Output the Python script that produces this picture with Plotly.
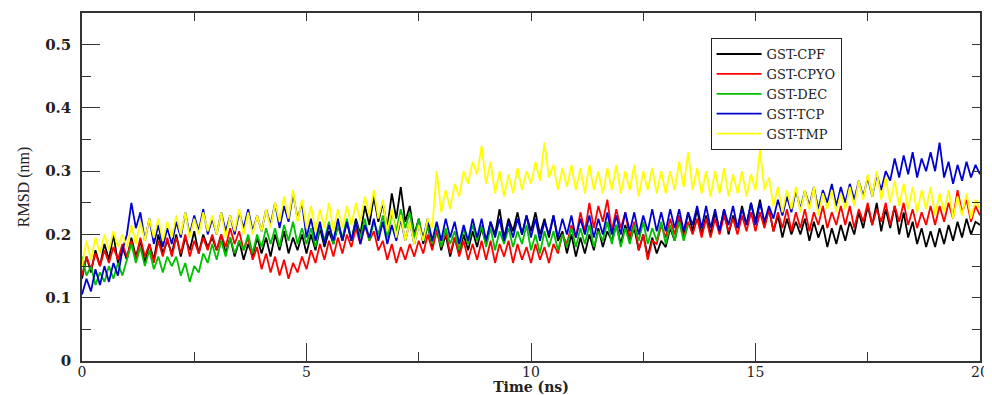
import numpy as np
import plotly.graph_objects as go

# time grid (ns), 0.1 ns sampling
time = np.round(np.arange(0, 201) * 0.1, 1)

series_names = ["GST-CPF", "GST-CPYO", "GST-DEC", "GST-TCP", "GST-TMP"]

cpf = [
    0.13, 0.165, 0.14, 0.175, 0.15, 0.185, 0.16, 0.2, 0.155, 0.18,
    0.16, 0.195, 0.165, 0.19, 0.155, 0.185, 0.16, 0.2, 0.17, 0.19,
    0.17, 0.2, 0.165, 0.195, 0.175, 0.205, 0.17, 0.2, 0.18, 0.195,
    0.175, 0.2, 0.17, 0.195, 0.165, 0.19, 0.16, 0.185, 0.165, 0.195,
    0.17, 0.195, 0.165, 0.2, 0.175, 0.205, 0.17, 0.195, 0.175, 0.2,
    0.17, 0.2, 0.175, 0.21, 0.18, 0.205, 0.185, 0.215, 0.19, 0.22,
    0.19, 0.225, 0.2, 0.245, 0.215, 0.26, 0.22, 0.25, 0.21, 0.265,
    0.225, 0.275, 0.22, 0.245, 0.2, 0.225, 0.185, 0.215, 0.18, 0.21,
    0.175, 0.2, 0.165, 0.195, 0.17, 0.2, 0.175, 0.205, 0.18, 0.21,
    0.185, 0.22, 0.2, 0.24, 0.195, 0.225, 0.205, 0.235, 0.2, 0.23,
    0.205, 0.235, 0.2, 0.225, 0.195, 0.23, 0.19, 0.205, 0.17, 0.2,
    0.165, 0.195, 0.17, 0.2, 0.175, 0.21, 0.18, 0.205, 0.19, 0.215,
    0.185, 0.215, 0.19, 0.21, 0.175, 0.2, 0.165, 0.195, 0.17, 0.19,
    0.18, 0.21, 0.19, 0.225, 0.2, 0.235, 0.205, 0.24, 0.2, 0.23,
    0.2, 0.235, 0.205, 0.24, 0.2, 0.23, 0.21, 0.245, 0.215, 0.25,
    0.22, 0.255, 0.215, 0.24, 0.205, 0.23, 0.195, 0.225, 0.2, 0.22,
    0.2, 0.225, 0.19, 0.22, 0.195, 0.215, 0.18, 0.21, 0.185, 0.215,
    0.19, 0.22, 0.2, 0.235, 0.21, 0.245, 0.215, 0.25, 0.205, 0.24,
    0.21, 0.245, 0.2, 0.235, 0.195, 0.22, 0.185, 0.21, 0.18, 0.205,
    0.18, 0.21, 0.185, 0.215, 0.19, 0.22, 0.195, 0.225, 0.2, 0.22,
    0.215,
]

cpyo = [
    0.135, 0.165, 0.145, 0.17, 0.15, 0.175, 0.155, 0.18, 0.16, 0.185,
    0.165, 0.19, 0.16, 0.195, 0.165, 0.185, 0.155, 0.19, 0.165, 0.195,
    0.165, 0.195, 0.17, 0.2, 0.165, 0.19, 0.17, 0.195, 0.175, 0.2,
    0.175, 0.2, 0.18, 0.21, 0.185, 0.205, 0.175, 0.195, 0.16, 0.18,
    0.145, 0.17, 0.14, 0.165, 0.135, 0.16, 0.13, 0.155, 0.14, 0.165,
    0.145, 0.175, 0.155, 0.185, 0.16, 0.19, 0.165, 0.195, 0.17, 0.2,
    0.18, 0.21, 0.185, 0.215, 0.19, 0.205, 0.175, 0.19, 0.16, 0.185,
    0.155, 0.18, 0.16, 0.185, 0.165, 0.19, 0.17, 0.2, 0.175, 0.205,
    0.18, 0.205, 0.17, 0.195, 0.165, 0.19, 0.16, 0.185, 0.16, 0.19,
    0.16, 0.19, 0.155, 0.185, 0.165, 0.19, 0.155, 0.185, 0.16, 0.18,
    0.155, 0.185, 0.16, 0.18, 0.155, 0.185, 0.17, 0.2, 0.185, 0.215,
    0.195, 0.235, 0.205, 0.25, 0.21, 0.245, 0.22, 0.255, 0.205, 0.24,
    0.21, 0.235, 0.195, 0.22, 0.175, 0.2, 0.16, 0.19, 0.185, 0.215,
    0.195, 0.225, 0.2, 0.23, 0.195, 0.22, 0.2, 0.225, 0.195, 0.225,
    0.195, 0.225, 0.2, 0.23, 0.205, 0.225, 0.2, 0.23, 0.205, 0.235,
    0.205, 0.235, 0.21, 0.24, 0.205, 0.235, 0.21, 0.24, 0.205, 0.235,
    0.21, 0.24, 0.205, 0.235, 0.215, 0.245, 0.21, 0.235, 0.215, 0.245,
    0.215, 0.245, 0.21, 0.24, 0.22, 0.25, 0.215, 0.24, 0.22, 0.25,
    0.215, 0.245, 0.22, 0.25, 0.215, 0.24, 0.21, 0.235, 0.215, 0.245,
    0.215, 0.245, 0.22, 0.25, 0.225, 0.27, 0.235, 0.255, 0.22, 0.245,
    0.23,
]

dec = [
    0.165, 0.135, 0.15, 0.12, 0.14, 0.125, 0.15, 0.13, 0.155, 0.135,
    0.16, 0.185, 0.155, 0.18, 0.15, 0.175, 0.145, 0.165, 0.14, 0.165,
    0.15, 0.165, 0.135, 0.155, 0.125, 0.15, 0.14, 0.17, 0.155, 0.185,
    0.16, 0.19, 0.165, 0.195, 0.17, 0.19, 0.175, 0.2, 0.17, 0.2,
    0.18, 0.21, 0.185, 0.21, 0.18, 0.215, 0.19, 0.22, 0.185, 0.21,
    0.185, 0.21, 0.18, 0.215, 0.19, 0.22, 0.185, 0.215, 0.195, 0.225,
    0.19, 0.22, 0.195, 0.225, 0.19, 0.22, 0.2, 0.23, 0.195, 0.235,
    0.205, 0.24, 0.21, 0.235, 0.195, 0.225, 0.19, 0.215, 0.185, 0.215,
    0.18, 0.21, 0.185, 0.205, 0.175, 0.21, 0.185, 0.215, 0.19, 0.215,
    0.18, 0.21, 0.175, 0.205, 0.185, 0.21, 0.18, 0.205, 0.185, 0.215,
    0.175, 0.2, 0.17, 0.205, 0.18, 0.205, 0.175, 0.2, 0.18, 0.21,
    0.18, 0.21, 0.185, 0.215, 0.18, 0.205, 0.19, 0.22, 0.185, 0.215,
    0.18, 0.21, 0.185, 0.215, 0.19, 0.22, 0.185, 0.21, 0.19, 0.22,
    0.185, 0.215, 0.19, 0.22, 0.19, 0.215,
]

tcp = [
    0.105, 0.13, 0.11, 0.145, 0.12, 0.15, 0.125, 0.155, 0.135, 0.175,
    0.2, 0.25, 0.21, 0.235, 0.19, 0.225, 0.185, 0.215, 0.18, 0.21,
    0.185, 0.22, 0.195, 0.235, 0.2, 0.23, 0.205, 0.24, 0.2, 0.225,
    0.2, 0.235, 0.205, 0.23, 0.2, 0.235, 0.21, 0.24, 0.205, 0.23,
    0.205, 0.24, 0.215, 0.25, 0.21, 0.245, 0.22, 0.265, 0.225, 0.25,
    0.195, 0.225, 0.19, 0.22, 0.185, 0.215, 0.19, 0.225, 0.19, 0.22,
    0.19, 0.22, 0.185, 0.215, 0.195, 0.225, 0.19, 0.22, 0.185, 0.215,
    0.19, 0.225, 0.19, 0.22, 0.185, 0.215, 0.195, 0.225, 0.19, 0.22,
    0.19, 0.225, 0.195, 0.22, 0.185, 0.215, 0.19, 0.225, 0.195, 0.225,
    0.19, 0.22, 0.195, 0.225, 0.19, 0.22, 0.195, 0.225, 0.2, 0.23,
    0.195, 0.225, 0.19, 0.22, 0.2, 0.23, 0.195, 0.225, 0.2, 0.23,
    0.195, 0.225, 0.2, 0.23, 0.195, 0.225, 0.2, 0.235, 0.2, 0.23,
    0.2, 0.235, 0.205, 0.235, 0.2, 0.23, 0.205, 0.24, 0.205, 0.235,
    0.205, 0.24, 0.21, 0.24, 0.205, 0.235, 0.215, 0.245, 0.21, 0.245,
    0.21, 0.24, 0.205, 0.24, 0.215, 0.245, 0.21, 0.24, 0.215, 0.25,
    0.215, 0.25, 0.22, 0.245, 0.225, 0.255, 0.23, 0.26, 0.235, 0.27,
    0.24, 0.27, 0.245, 0.275, 0.24, 0.27, 0.25, 0.28, 0.245, 0.275,
    0.25, 0.28, 0.255, 0.285, 0.26, 0.29, 0.26, 0.295, 0.27, 0.3,
    0.285, 0.32, 0.29, 0.325, 0.295, 0.33, 0.29, 0.32, 0.3, 0.33,
    0.3, 0.345, 0.29, 0.315, 0.28, 0.31, 0.285, 0.315, 0.29, 0.31,
    0.295,
]

tmp = [
    0.15, 0.19, 0.16, 0.195, 0.17, 0.2, 0.175, 0.205, 0.18, 0.2,
    0.18, 0.215, 0.185, 0.22, 0.19, 0.225, 0.195, 0.225, 0.19, 0.22,
    0.195, 0.23, 0.2, 0.235, 0.195, 0.225, 0.2, 0.235, 0.205, 0.23,
    0.2, 0.235, 0.195, 0.23, 0.205, 0.24, 0.2, 0.235, 0.2, 0.23,
    0.205, 0.24, 0.21, 0.25, 0.22, 0.26, 0.225, 0.27, 0.22, 0.255,
    0.21, 0.245, 0.205, 0.24, 0.21, 0.25, 0.205, 0.24, 0.21, 0.245,
    0.215, 0.25, 0.22, 0.26, 0.23, 0.27, 0.225, 0.255, 0.205, 0.24,
    0.195, 0.23, 0.19, 0.22, 0.185, 0.215, 0.19, 0.225, 0.21, 0.3,
    0.235, 0.27, 0.24, 0.28, 0.26, 0.3, 0.28, 0.315, 0.295, 0.34,
    0.28, 0.315, 0.265, 0.3, 0.26, 0.295, 0.265, 0.305, 0.27, 0.3,
    0.28, 0.315, 0.285, 0.345, 0.29, 0.31, 0.27, 0.305, 0.275, 0.31,
    0.27, 0.305, 0.265, 0.31, 0.27, 0.3, 0.265, 0.305, 0.27, 0.31,
    0.265, 0.3, 0.27, 0.31, 0.26, 0.3, 0.27, 0.305, 0.265, 0.3,
    0.265, 0.3, 0.27, 0.315, 0.275, 0.33, 0.27, 0.305, 0.265, 0.3,
    0.26, 0.3, 0.265, 0.305, 0.26, 0.295, 0.265, 0.3, 0.26, 0.295,
    0.27, 0.335, 0.27, 0.29, 0.245, 0.275, 0.235, 0.27, 0.24, 0.275,
    0.235, 0.27, 0.24, 0.275, 0.23, 0.265, 0.24, 0.27, 0.235, 0.265,
    0.24, 0.275, 0.245, 0.285, 0.255, 0.295, 0.26, 0.3, 0.255, 0.29,
    0.25, 0.285, 0.245, 0.28, 0.24, 0.275, 0.235, 0.27, 0.24, 0.275,
    0.23, 0.265, 0.235, 0.27, 0.225, 0.26, 0.23, 0.265, 0.225, 0.255,
    0.24,
]

x_ticks = [0, 5, 10, 15, 20]
y_ticks = [0, 0.1, 0.2, 0.3, 0.4, 0.5]

colors = ["#000000", "#ff0000", "#00c000", "#0000d0", "#ffff00"]
values = [cpf, cpyo, dec, tcp, tmp]

SERIF = "DejaVu Serif"
TIMES = "Liberation Serif"
AX = "#333333"
TXT = "#222222"

fig = go.Figure()
for name, vals, col in zip(series_names, values, colors):
    fig.add_trace(go.Scatter(
        x=time[:len(vals)], y=vals, mode="lines", name=name,
        line=dict(color=col, width=1.8),
    ))

# empty trace for the mirrored (top/right) axes
fig.add_trace(go.Scatter(x=[], y=[], xaxis="x2", yaxis="y2",
                         showlegend=False, hoverinfo="skip"))

# the page body has an 8px margin: the figure is sized/offset to compensate
fig.update_layout(
    width=984, height=387,
    margin=dict(l=74, r=12, t=5, b=34),
    plot_bgcolor="white", paper_bgcolor="white",
    font=dict(family=SERIF, color=TXT),
    showlegend=True,
    legend=dict(
        x=0.70, y=0.928, xanchor="left", yanchor="top",
        bgcolor="white", bordercolor=TXT, borderwidth=1,
        font=dict(family=SERIF, size=13, color=TXT),
        itemwidth=45,
    ),
    xaxis=dict(
        range=[0, 20], tickvals=x_ticks, ticks="inside", ticklen=18,
        tickwidth=1.2, tickcolor=AX, automargin=False,
        minor=dict(dtick=2.5, ticks="inside", ticklen=9, tickcolor=AX, tickwidth=1.2),
        showline=True, linecolor=AX, linewidth=1.5, mirror=True,
        showgrid=False, zeroline=False, ticklabelstandoff=-3,
        tickfont=dict(family=SERIF, size=14, color=TXT),
        title=dict(text="<b>Time (ns)</b>", font=dict(family=SERIF, size=14, color=TXT), standoff=0),
    ),
    yaxis=dict(
        range=[0, 0.55], tickvals=y_ticks, ticks="inside", ticklen=18,
        tickwidth=1.2, tickcolor=AX, automargin=False,
        minor=dict(dtick=0.05, ticks="inside", ticklen=9, tickcolor=AX, tickwidth=1.2),
        showline=True, linecolor=AX, linewidth=1.5, mirror=True,
        showgrid=False, zeroline=False, ticklabelstandoff=6,
        tickfont=dict(family=SERIF, size=15, color=TXT, weight="bold"),
        title=dict(text="RMSD (nm)", font=dict(family=TIMES, size=16, color=TXT), standoff=12),
    ),
    xaxis2=dict(
        overlaying="x", side="top", range=[0, 20], tickvals=x_ticks,
        ticks="inside", ticklen=8, tickcolor=AX, showticklabels=False,
        minor=dict(dtick=2.5, ticks="inside", ticklen=8, tickcolor=AX),
        showgrid=False, zeroline=False, showline=False, automargin=False,
    ),
    yaxis2=dict(
        overlaying="y", side="right", range=[0, 0.55], tickvals=y_ticks,
        ticks="inside", ticklen=8, tickcolor=AX, showticklabels=False,
        minor=dict(dtick=0.05, ticks="inside", ticklen=8, tickcolor=AX),
        showgrid=False, zeroline=False, showline=False, automargin=False,
    ),
)

fig.write_html("out.html")
